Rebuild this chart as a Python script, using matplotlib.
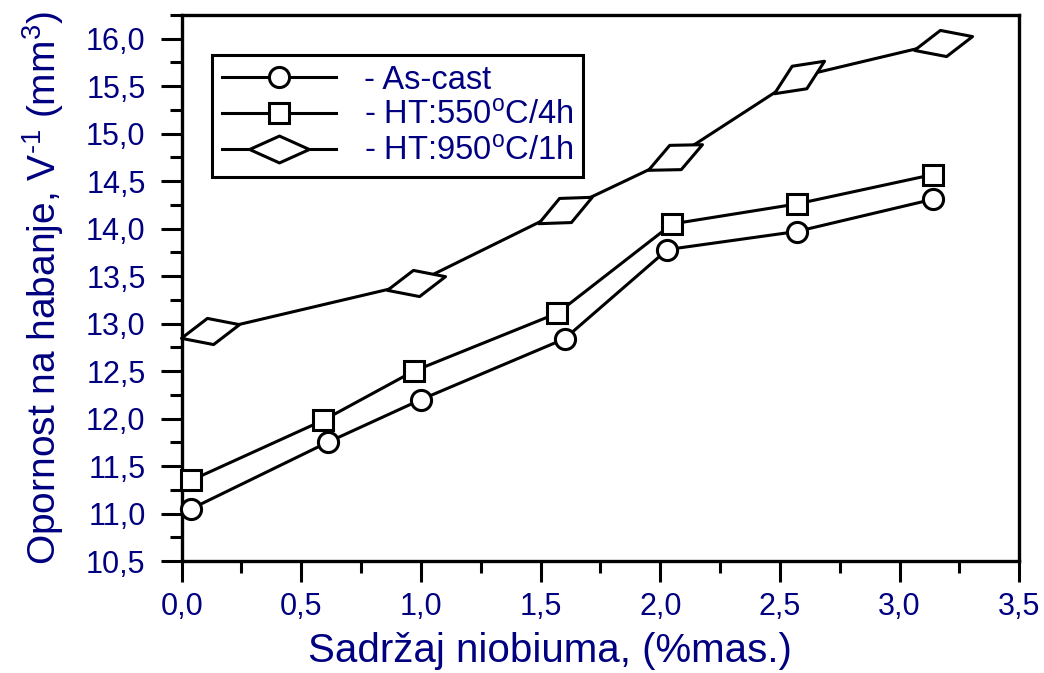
import numpy as np
import matplotlib
matplotlib.use('Agg')
import matplotlib.pyplot as plt
from matplotlib.path import Path
from matplotlib.markers import MarkerStyle
from matplotlib.lines import Line2D
from matplotlib.transforms import Affine2D
from matplotlib.ticker import MultipleLocator, FuncFormatter

plt.rcParams['font.family'] = ['Liberation Sans', 'DejaVu Sans']
plt.rcParams['mathtext.fontset'] = 'custom'
plt.rcParams['mathtext.rm'] = 'Liberation Sans'
plt.rcParams['mathtext.default'] = 'rm'

# podaci ocitani sa dijagrama
x_ascast = [0.04, 0.61, 1.00, 1.60, 2.03, 2.57, 3.14]
y_ascast = [11.05, 11.75, 12.20, 12.84, 13.78, 13.97, 14.31]
x_ht550 = [0.04, 0.59, 0.97, 1.57, 2.05, 2.57, 3.14]
y_ht550 = [11.35, 11.98, 12.50, 13.11, 14.05, 14.26, 14.57]
x_ht950 = [0.12, 0.98, 1.60, 2.06, 2.58, 3.18]
y_ht950 = [12.92, 13.43, 14.20, 14.75, 15.60, 15.96]
labels = ['- As-cast', '- HT:550$^{o}$C/4h', '- HT:950$^{o}$C/1h']

navy = '#000080'
lw = 2.2

# siroki romb
diamond = Path([(-30, 0), (0, 13.5), (30, 0), (0, -13.5), (-30, 0)],
               [Path.MOVETO, Path.LINETO, Path.LINETO, Path.LINETO, Path.CLOSEPOLY])

fig = plt.figure(figsize=(10.44, 6.73), dpi=100)
ax = fig.add_axes([0.174, 0.1664, 0.8023, 0.8113])
ax.set_xlim(0, 3.5)
ax.set_ylim(10.5, 16.25)

ax.plot(x_ascast, y_ascast, color='k', lw=lw, marker='o', ms=14.5,
        mfc='white', mec='k', mew=lw, clip_on=False, zorder=3)
ax.plot(x_ht550, y_ht550, color='k', lw=lw, marker='s', ms=14.5,
        mfc='white', mec='k', mew=lw, clip_on=False, zorder=3)
ax.plot(x_ht950, y_ht950, color='k', lw=lw, clip_on=False, zorder=3)

# rombovi su okrenuti u pravcu linije
disp = ax.transData.transform(np.column_stack([x_ht950, y_ht950]))
for i in range(len(x_ht950)):
    d = disp[1] - disp[0] if i == 0 else disp[i] - disp[i - 1]
    ang = np.degrees(np.arctan2(d[1], d[0]))
    m = MarkerStyle(diamond, transform=Affine2D().rotate_deg(ang))
    ax.plot([x_ht950[i]], [y_ht950[i]], ls='none', marker=m, ms=43,
            mfc='white', mec='k', mew=lw, clip_on=False, zorder=4)

for s in ['top', 'right', 'left', 'bottom']:
    ax.spines[s].set_linewidth(2.4)

ax.xaxis.set_major_locator(MultipleLocator(0.5))
ax.xaxis.set_minor_locator(MultipleLocator(0.25))
ax.yaxis.set_major_locator(MultipleLocator(0.5))
ax.yaxis.set_minor_locator(MultipleLocator(0.25))
fmt = FuncFormatter(lambda v, p: ('%.1f' % v).replace('.', ','))
ax.xaxis.set_major_formatter(fmt)
ax.yaxis.set_major_formatter(fmt)
ax.tick_params(which='both', direction='out', width=lw, colors='k',
               top=False, right=False)
ax.tick_params(which='major', length=15)
ax.tick_params(which='minor', length=8.5)
ax.tick_params(axis='x', which='major', labelsize=22, labelcolor=navy, pad=7)
ax.tick_params(axis='y', which='major', labelsize=22, labelcolor=navy, pad=11)

ax.set_xlabel('Sadržaj niobiuma, (%mas.)', fontsize=29, color=navy)
ax.xaxis.set_label_coords(0.44, -0.13)
ax.set_ylabel(r'Opornost na habanje, V$^{\text{-}1}$ (mm$^{3}$)', fontsize=28,
              color=navy, labelpad=14)

h1 = Line2D([], [], color='k', lw=lw, marker='o', ms=14.5, mfc='white', mec='k', mew=lw)
h2 = Line2D([], [], color='k', lw=lw, marker='s', ms=14.5, mfc='white', mec='k', mew=lw)
h3 = Line2D([], [], color='k', lw=lw, marker=MarkerStyle(diamond), ms=43,
            mfc='white', mec='k', mew=lw)
leg = ax.legend([h1, h2, h3], labels, loc='upper left', bbox_to_anchor=(0.036, 0.927),
                borderaxespad=0, fancybox=False, edgecolor='k', framealpha=1,
                fontsize=23.5, labelcolor=navy, handlelength=3.5, handletextpad=0.85,
                borderpad=0.3, labelspacing=0.15, numpoints=1)
leg.get_frame().set_linewidth(lw)

fig.savefig('out.png', dpi=100)
